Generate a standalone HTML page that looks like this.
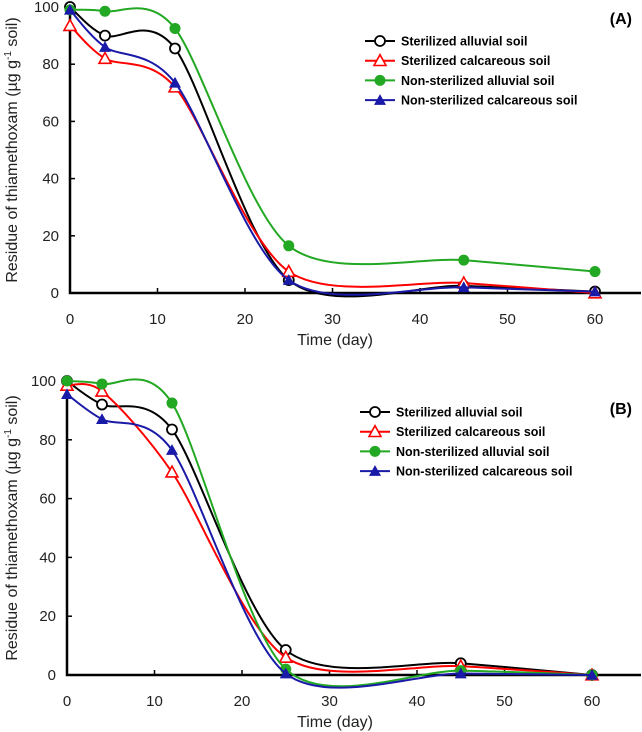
<!DOCTYPE html>
<html><head><meta charset="utf-8"><style>
body{margin:0;background:#fff}
svg{display:block;font-family:"Liberation Sans",Calibri,sans-serif}
</style></head><body>
<svg id="fig" width="642" height="732" viewBox="0 0 642 732"></svg>
<script>
const days=[0,4,12,25,45,60];
const seriesNames=["Sterilized alluvial soil","Sterilized calcareous soil","Non-sterilized alluvial soil","Non-sterilized calcareous soil"];
const aSterAlluvial=[100,90,85.5,4.5,2.5,0.5];
const aSterCalc=[93.5,82,72,7.5,3.5,0];
const aNonAlluvial=[99,98.5,92.5,16.5,11.5,7.5];
const aNonCalc=[99,86,73.5,4.5,2,0.5];
const bSterAlluvial=[100,92,83.5,8.5,4,0];
const bSterCalc=[98.5,96.5,69,6,3,0];
const bNonAlluvial=[100,99,92.5,2,1.5,0];
const bNonCalc=[95.5,87,76.5,0.5,0.5,0];
const xTicks=[0,10,20,30,40,50,60];
const yTicks=[0,20,40,60,80,100];

const NS="http://www.w3.org/2000/svg";
const svg=document.getElementById('fig');
function mk(tag,attrs,parent){const e=document.createElementNS(NS,tag);for(const k in attrs)e.setAttribute(k,attrs[k]);(parent||svg).appendChild(e);return e;}
const colors=["#000","#ff0000","#22a822","#1a1aa8"];
const markers=["circle","triangle","dot","filltri"];

function panel(p){
  const g=mk('g',{});
  
  
  const X=v=>p.x0+v*p.sx, Y=v=>p.y0-v*p.sy;
  const ax=mk('path',{d:`M${p.x0},${Y(100)-2}V${p.y0}H${p.xEnd}`,stroke:'#000','stroke-width':2.5,fill:'none'},g);
  
  
  xTicks.forEach(t=>{
    mk('line',{x1:X(t),x2:X(t),y1:p.y0,y2:p.y0-5,stroke:'#000','stroke-width':1.5},g);
    const tx=mk('text',{x:X(t),y:p.y0+31,'font-size':15,'text-anchor':'middle',fill:'#222'},g);
    tx.textContent=t;
    
    
  });
  yTicks.forEach(t=>{
    mk('line',{x1:p.x0,x2:p.x0+5,y1:Y(t),y2:Y(t),stroke:'#000','stroke-width':1.5},g);
    const tx=mk('text',{x:p.x0-11,y:Y(t)+5,'font-size':15,'text-anchor':'end',fill:'#222'},g);
    tx.textContent=t;
    
    
  });
  const xt=mk('text',{x:335,y:p.y0+52,'font-size':16,'text-anchor':'middle',fill:'#222'},g);
  xt.textContent='Time (day)';
  
  
  const yc=(Y(0)+Y(100))/2;
  const yt=mk('text',{x:17,y:yc,'font-size':16,'text-anchor':'middle',fill:'#222',transform:`rotate(-90 17 ${yc})`},g);
  yt.innerHTML='Residue of thiamethoxam (µg g<tspan dy="-6" font-size="10">-1</tspan><tspan dy="6"> soil)</tspan>';
  
  
  const lab=mk('text',{x:632,y:p.labY,'font-size':16,'font-weight':'bold','text-anchor':'end'},g);
  lab.textContent='('+p.label+')';
  
  
  p.series.forEach((vals,i)=>{
    const pts=days.map((d,j)=>[X(d),Y(vals[j])]);
    let d=`M${pts[0][0]},${pts[0][1]}`;
    const k=7;
    for(let j=0;j<pts.length-1;j++){
      const a=pts[Math.max(0,j-1)],b=pts[j],c=pts[j+1],e=pts[Math.min(pts.length-1,j+2)];
      const c1=[b[0]+(c[0]-a[0])/k,b[1]+(c[1]-a[1])/k],c2=[c[0]-(e[0]-b[0])/k,c[1]-(e[1]-b[1])/k];
      d+=`C${c1[0]},${c1[1]} ${c2[0]},${c2[1]} ${c[0]},${c[1]}`;
    }
    const ln=mk('path',{d,stroke:colors[i],'stroke-width':2,fill:'none'},g);
    
    
    pts.forEach(pt=>{const m=marker(g,i,pt[0],pt[1]);});
  });
  seriesNames.forEach((n,i)=>{
    const ly=p.legY+i*19.7;
    const l=mk('line',{x1:p.legX,x2:p.legX+30,y1:ly,y2:ly,stroke:colors[i],'stroke-width':2},g);
    
    
    marker(g,i,p.legX+15,ly);
    const t=mk('text',{x:p.legX+36,y:ly+4.5,'font-size':12.5,'font-weight':'bold'},g);
    t.textContent=n;
    
    
  });
}
function marker(g,i,x,y){
  const m=markers[i];
  if(m==='circle')return mk('circle',{cx:x,cy:y,r:5,fill:'#fff',stroke:'#000','stroke-width':1.8},g);
  if(m==='dot')return mk('circle',{cx:x,cy:y,r:5.5,fill:'#22a822'},g);
  const s=6;const pts=`${x},${y-s} ${x-s},${y+s*0.8} ${x+s},${y+s*0.8}`;
  if(m==='triangle')return mk('polygon',{points:pts,fill:'#fff',stroke:'#ff0000','stroke-width':1.6},g);
  return mk('polygon',{points:pts,fill:'#1a1aa8'},g);
}
panel({label:'A',x0:70,sx:8.75,y0:293,sy:2.86,xEnd:641,labY:24,legX:365,legY:41,series:[aSterAlluvial,aSterCalc,aNonAlluvial,aNonCalc]});
panel({label:'B',x0:67,sx:8.75,y0:675,sy:2.94,xEnd:641,labY:414,legX:360,legY:412,series:[bSterAlluvial,bSterCalc,bNonAlluvial,bNonCalc]});
</script>
</body></html>
